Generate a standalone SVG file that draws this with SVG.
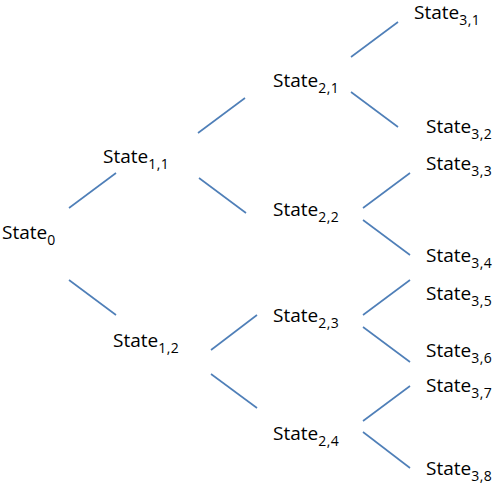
<svg xmlns="http://www.w3.org/2000/svg" width="500" height="485" viewBox="0 0 500 485">
<style>
text{font-family:"Open Sans","Liberation Sans",sans-serif;font-size:19px;fill:#000}
.s{font-size:14px;letter-spacing:0.5px}
#edges line{stroke:#4f7fb8;stroke-width:1.6}
</style>
<rect width="500" height="485" fill="#fff"/>
<g id="edges">
<line x1="69" y1="208" x2="116" y2="173"/>
<line x1="69" y1="280" x2="116" y2="315"/>
<line x1="198" y1="133" x2="245" y2="98"/>
<line x1="199" y1="178" x2="246" y2="213"/>
<line x1="211" y1="350" x2="257" y2="315"/>
<line x1="211" y1="374" x2="257" y2="408"/>
<line x1="351" y1="57" x2="398" y2="22"/>
<line x1="351" y1="92" x2="398" y2="127"/>
<line x1="363" y1="208" x2="410" y2="173"/>
<line x1="363" y1="220" x2="410" y2="255"/>
<line x1="363" y1="315" x2="410" y2="280"/>
<line x1="363" y1="327" x2="410" y2="362"/>
<line x1="363" y1="421" x2="410" y2="386"/>
<line x1="363" y1="432" x2="410" y2="468"/>
</g>
<g id="s0"><text x="2" y="239">State<tspan class="s" dy="6">0</tspan></text></g>
<g id="s11"><text x="103" y="163">State<tspan class="s" dy="6">1,1</tspan></text></g>
<g id="s12"><text x="113" y="347">State<tspan class="s" dy="6">1,2</tspan></text></g>
<g id="s21"><text x="273" y="87">State<tspan class="s" dy="6">2,1</tspan></text></g>
<g id="s22"><text x="273" y="216">State<tspan class="s" dy="6">2,2</tspan></text></g>
<g id="s23"><text x="273" y="322">State<tspan class="s" dy="6">2,3</tspan></text></g>
<g id="s24"><text x="273" y="440">State<tspan class="s" dy="6">2,4</tspan></text></g>
<g id="s31"><text x="414" y="19">State<tspan class="s" dy="6">3,1</tspan></text></g>
<g id="s32"><text x="426" y="133">State<tspan class="s" dy="6">3,2</tspan></text></g>
<g id="s33"><text x="426" y="170">State<tspan class="s" dy="6">3,3</tspan></text></g>
<g id="s34"><text x="426" y="262">State<tspan class="s" dy="6">3,4</tspan></text></g>
<g id="s35"><text x="426" y="300">State<tspan class="s" dy="6">3,5</tspan></text></g>
<g id="s36"><text x="426" y="357">State<tspan class="s" dy="6">3,6</tspan></text></g>
<g id="s37"><text x="426" y="392">State<tspan class="s" dy="6">3,7</tspan></text></g>
<g id="s38"><text x="426" y="475">State<tspan class="s" dy="6">3,8</tspan></text></g>
</svg>
